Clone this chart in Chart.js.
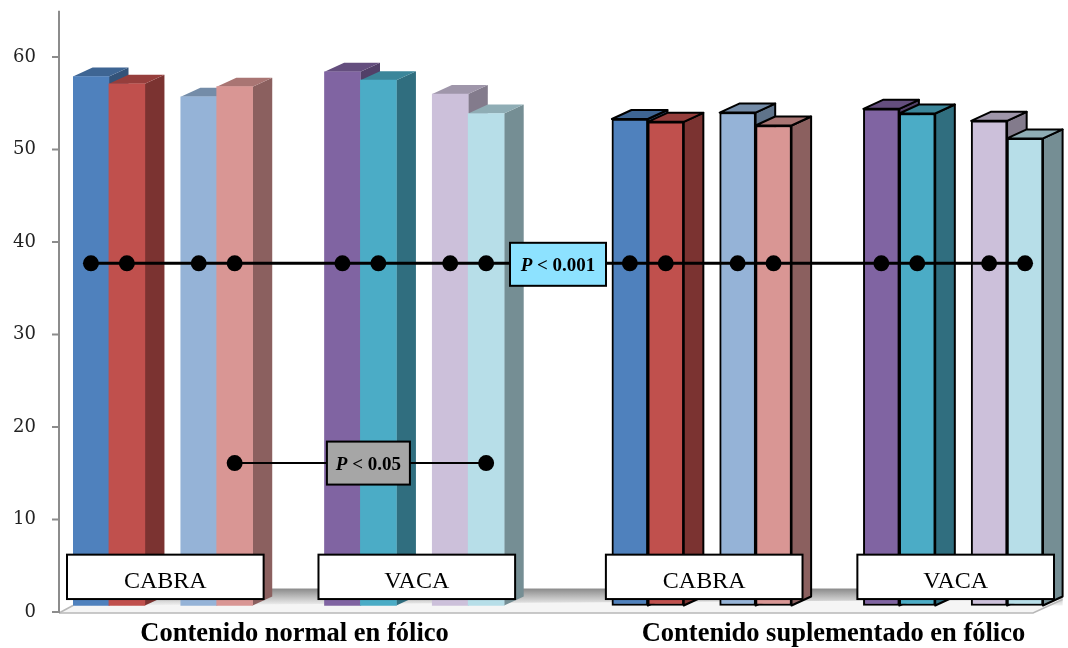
<!DOCTYPE html>
<html>
<head>
<meta charset="utf-8">
<script src="https://cdn.jsdelivr.net/npm/chart.js@4/dist/chart.umd.min.js"></script>
<style>
  html, body { margin: 0; padding: 0; background: #fff; }
  #wrap { width: 1068px; height: 648px; }
</style>
</head>
<body>
<div id="wrap"><canvas id="chart" width="1068" height="648"></canvas></div>
<script>
// data
const groups = ['Contenido normal en fólico', 'Contenido suplementado en fólico'];
const species = ['CABRA', 'VACA'];
const normalValues = [57.9, 57.1, 55.7, 56.8, 58.4, 57.5, 56.0, 53.9];
const suplementadoValues = [53.3, 53.0, 54.0, 52.6, 54.4, 53.9, 53.1, 51.2];
const barColors = ['#4F81BD', '#C0504D', '#95B3D7', '#D99694', '#8064A2', '#4BACC6', '#CCC0DA', '#B7DEE8'];
const yTicks = [0, 10, 20, 30, 40, 50, 60];
const p001Value = 37.7;          // line across every bar
const p05Value = 16.1;           // line between two bars
const p05Bars = [3, 7];          // index of bars (within the normal group) joined by the P < 0.05 line
const p001Text = '< 0.001';
const p05Text = '< 0.05';

// 3d look
const DX = 19.6, DY = 9;
const floorLevel = 0.7;

// build the slots: pairs of bars with gaps between pairs, species and groups
const slotOf = [];
let slot = 0;
groups.forEach((g, gi) => {
    if (gi > 0) slot += 3;
    species.forEach((s, si) => {
        if (si > 0) slot += 2;
        for (let p = 0; p < 2; p++) {
            if (p > 0) slot += 1;
            for (let b = 0; b < 2; b++) {
                slotOf.push(slot);
                slot++;
            }
        }
    });
});
const nSlots = slot;
const allValues = normalValues.concat(suplementadoValues);

const labels = [];
const barData = [];
const bgColors = [];
const outlined = [];
const p001Data = [];
const p05Data = [];
for (let i = 0; i < nSlots; i++) {
    labels.push('');
    barData.push(null);
    bgColors.push('rgba(0,0,0,0)');
    outlined.push(false);
    p001Data.push(null);
    p05Data.push(null);
}
allValues.forEach((v, i) => {
    const s = slotOf[i];
    labels[s] = (i < 8 ? 'N' : 'S') + ' ' + species[Math.floor((i % 8) / 4)] + ' ' + (i % 4 + 1);
    barData[s] = v;
    bgColors[s] = barColors[i % 8];
    outlined[s] = i >= 8;
    p001Data[s] = p001Value;
});
p05Bars.forEach(b => { p05Data[slotOf[b]] = p05Value; });

function shade(hex, f) {
    const n = parseInt(hex.slice(1), 16);
    const r = Math.round(((n >> 16) & 255) * f);
    const g = Math.round(((n >> 8) & 255) * f);
    const b = Math.round((n & 255) * f);
    return 'rgb(' + r + ',' + g + ',' + b + ')';
}

function poly(ctx, pts, fill, stroke) {
    ctx.beginPath();
    ctx.moveTo(pts[0][0], pts[0][1]);
    for (let i = 1; i < pts.length; i++) ctx.lineTo(pts[i][0], pts[i][1]);
    ctx.closePath();
    ctx.fillStyle = fill;
    ctx.fill();
    if (stroke) {
        ctx.strokeStyle = '#000';
        ctx.lineWidth = 2;
        ctx.lineJoin = 'round';
        ctx.stroke();
    }
}

const threeD = {
    id: 'threeD',
    beforeDatasetsDraw(chart) {
        const ctx = chart.ctx;
        const a = chart.chartArea;
        const y = chart.scales.y;
        const y0 = y.getPixelForValue(0);
        const yf = y.getPixelForValue(floorLevel);
        const axisX = a.left - 14;
        ctx.save();
        // floor shading
        const grad = ctx.createLinearGradient(0, yf - 17, 0, yf);
        grad.addColorStop(0, '#8a8a8a');
        grad.addColorStop(1, '#f2f2f2');
        ctx.fillStyle = grad;
        ctx.fillRect(a.left, yf - 17, a.right + DX - a.left, 17);
        poly(ctx, [[axisX, y0 + 1], [a.left, yf], [a.right + DX, yf - 6], [a.right - 10, y0 + 1]], '#f5f5f5', false);
        ctx.strokeStyle = '#b8b8b8';
        ctx.lineWidth = 1.5;
        ctx.beginPath();
        ctx.moveTo(axisX, y0 + 1);
        ctx.lineTo(a.right - 10, y0 + 1);
        ctx.lineTo(a.right + DX, yf - 6);
        ctx.stroke();
        ctx.beginPath();
        ctx.moveTo(axisX, y0 + 1);
        ctx.lineTo(a.left, yf);
        ctx.stroke();
        // y axis line and tick marks
        ctx.strokeStyle = '#8c8c8c';
        ctx.lineWidth = 2;
        ctx.beginPath();
        ctx.moveTo(axisX, a.top);
        ctx.lineTo(axisX, y0 + 1);
        yTicks.forEach(t => {
            const ty = y.getPixelForValue(t);
            ctx.moveTo(axisX - 7, ty);
            ctx.lineTo(axisX, ty);
        });
        ctx.stroke();
        ctx.restore();
    },
    beforeDatasetDraw(chart, args) {
        if (args.index !== 0) return;
        const ctx = chart.ctx;
        const meta = chart.getDatasetMeta(0);
        ctx.save();
        meta.data.forEach((el, i) => {
            if (barData[i] == null) return;
            const l = el.x - el.width / 2, r = el.x + el.width / 2;
            const top = el.y, base = el.base;
            const c = bgColors[i];
            poly(ctx, [[r, top], [r + DX, top - DY], [r + DX, base - DY], [r, base]], shade(c, 0.64), outlined[i]);
            poly(ctx, [[l, top], [r, top], [r + DX, top - DY], [l + DX, top - DY]], shade(c, 0.78), outlined[i]);
        });
        ctx.restore();
    },
    afterDatasetsDraw(chart) {
        const ctx = chart.ctx;
        const x = chart.scales.x;
        const y = chart.scales.y;
        const meta = chart.getDatasetMeta(0);
        const half = meta.data[slotOf[0]].width / 2;
        ctx.save();
        // species boxes
        const boxTop = y.getPixelForValue(6.2), boxBot = y.getPixelForValue(1.4);
        for (let g = 0; g < groups.length; g++) {
            for (let s = 0; s < species.length; s++) {
                const first = slotOf[g * 8 + s * 4], last = slotOf[g * 8 + s * 4 + 3];
                const bl = x.getPixelForValue(first) - half - 6;
                const br = x.getPixelForValue(last) + half + 11;
                ctx.fillStyle = '#fff';
                ctx.fillRect(bl, boxTop, br - bl, boxBot - boxTop);
                ctx.strokeStyle = '#000';
                ctx.lineWidth = 2;
                ctx.strokeRect(bl, boxTop, br - bl, boxBot - boxTop);
                ctx.fillStyle = '#000';
                ctx.font = '24px "Liberation Serif"';
                ctx.textAlign = 'center';
                ctx.textBaseline = 'alphabetic';
                ctx.fillText(species[s], (bl + br) / 2, boxBot - 11);
            }
            // group title
            const gl = x.getPixelForValue(slotOf[g * 8]) - half;
            const gr = x.getPixelForValue(slotOf[g * 8 + 7]) + half;
            ctx.font = 'bold 26.5px "Liberation Serif"';
            ctx.textAlign = 'center';
            ctx.fillText(groups[g], (gl + gr) / 2 + 6, 641);
        }
        // P value boxes
        function pBox(cx, cy, w, h, fill, rest) {
            ctx.fillStyle = fill;
            ctx.fillRect(cx - w / 2, cy - h / 2, w, h);
            ctx.strokeStyle = '#000';
            ctx.lineWidth = 2;
            ctx.strokeRect(cx - w / 2, cy - h / 2, w, h);
            ctx.font = 'italic bold 19px "Liberation Serif"';
            const pw = ctx.measureText('P ').width;
            ctx.font = 'bold 19px "Liberation Serif"';
            const rw = ctx.measureText(rest).width;
            const sx = cx - (pw + rw) / 2;
            ctx.textAlign = 'left';
            ctx.fillStyle = '#000';
            ctx.font = 'italic bold 19px "Liberation Serif"';
            ctx.fillText('P', sx, cy + 7);
            ctx.font = 'bold 19px "Liberation Serif"';
            ctx.fillText(rest, sx + pw, cy + 7);
        }
        const y1 = y.getPixelForValue(p001Value);
        pBox(x.getPixelForValue(slotOf[7] + 2), y1 + 1, 96, 43, '#8DE2FF', p001Text);
        const y2 = y.getPixelForValue(p05Value);
        const mid = (x.getPixelForValue(slotOf[p05Bars[0]]) + x.getPixelForValue(slotOf[p05Bars[1]])) / 2;
        pBox(mid + 8, y2, 83, 43, '#A6A6A6', p05Text);
        ctx.restore();
    }
};

new Chart(document.getElementById('chart'), {
    type: 'bar',
    data: {
        labels: labels,
        datasets: [{
            data: barData,
            backgroundColor: bgColors,
            borderColor: '#000',
            borderWidth: outlined.map(o => o ? 2 : 0),
            borderSkipped: false,
            base: floorLevel,
            barPercentage: 1,
            categoryPercentage: 1,
            order: 3
        }, {
            type: 'line',
            data: p001Data,
            spanGaps: true,
            borderColor: '#000',
            borderWidth: 3,
            pointRadius: 8,
            pointBackgroundColor: '#000',
            pointBorderWidth: 0,
            order: 1
        }, {
            type: 'line',
            data: p05Data,
            spanGaps: true,
            borderColor: '#000',
            borderWidth: 2,
            pointRadius: 8,
            pointBackgroundColor: '#000',
            pointBorderWidth: 0,
            order: 2
        }]
    },
    options: {
        responsive: false,
        animation: false,
        layout: { padding: { left: 0, right: 25, top: 8, bottom: 36 } },
        plugins: { legend: { display: false }, tooltip: { enabled: false } },
        scales: {
            x: { display: false, offset: true },
            y: {
                min: 0,
                max: 65,
                ticks: { stepSize: 10, padding: 0, color: '#222', font: { family: 'DejaVu Serif', size: 18 } },
                grid: { display: false, drawTicks: true, tickLength: 37 },
                border: { display: false },
                afterFit: function (s) { s.width = 73; },
                afterBuildTicks: function (s) { s.ticks = s.ticks.filter(t => yTicks.indexOf(t.value) >= 0); }
            }
        }
    },
    plugins: [threeD]
});
</script>
</body>
</html>
